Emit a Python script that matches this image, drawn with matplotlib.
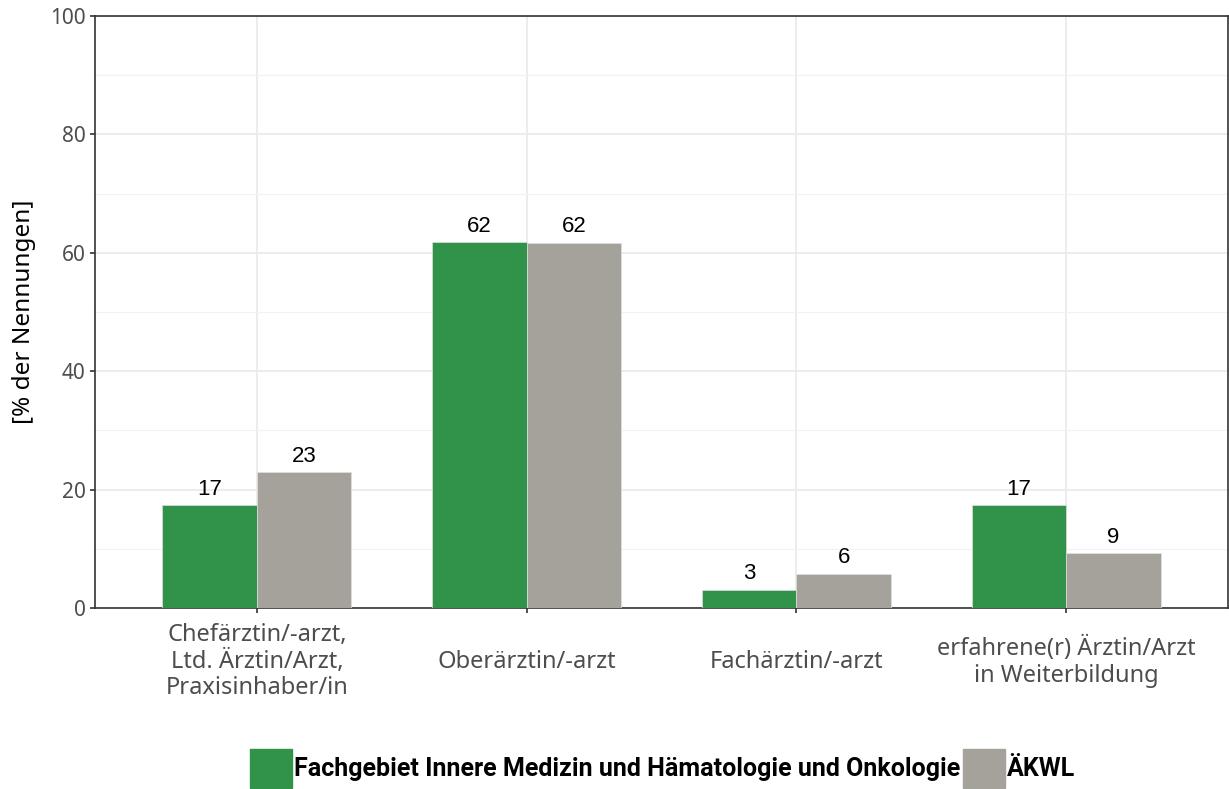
import matplotlib
matplotlib.use("Agg")
import matplotlib.pyplot as plt
from matplotlib.patches import Rectangle
import numpy as np

# Daten
categories = ["Chefärztin/-arzt,\nLtd. Ärztin/Arzt,\nPraxisinhaber/in",
              "Oberärztin/-arzt",
              "Fachärztin/-arzt",
              "erfahrene(r) Ärztin/Arzt\nin Weiterbildung"]
fach_values = [17.4, 61.8, 3.1, 17.4]
aekwl_values = [23.0, 61.7, 5.8, 9.3]
series_names = ["Fachgebiet Innere Medizin und Hämatologie und Onkologie", "ÄKWL"]
colors = ["#31924a", "#a5a29b"]
yticks = [0, 20, 40, 60, 80, 100]

fig = plt.figure(figsize=(12.29, 7.89), dpi=100)
ax = fig.add_axes([95 / 1229, (789 - 608) / 789, (1228 - 95) / 1229, (608 - 16) / 789])

x = np.arange(1, len(categories) + 1)
w = 0.35
b1 = ax.bar(x - w / 2, fach_values, w, color=colors[0], edgecolor="#e0e0e0", linewidth=0.5, zorder=3)
b2 = ax.bar(x + w / 2, aekwl_values, w, color=colors[1], edgecolor="#e0e0e0", linewidth=0.5, zorder=3)

for bars, vals in [(b1, fach_values), (b2, aekwl_values)]:
    for r, v in zip(bars, vals):
        ax.text(r.get_x() + r.get_width() / 2, v + 0.9, f"{round(v)}", ha="center", va="bottom",
                fontsize=16, family="Liberation Sans", color="black", zorder=4)

ax.set_xlim(0.4, 4.6)
ax.set_ylim(0, 100)
ax.set_yticks(yticks)
ax.set_yticks(np.arange(10, 100, 20), minor=True)
ax.set_xticks(x)
ax.set_xticklabels(categories, fontsize=17, family="Noto Sans", color="#4d4d4d",
                   linespacing=1.15, va="center")
ax.tick_params(axis="y", labelsize=15, labelcolor="#4d4d4d", length=3.6, width=1.2, color="#333333", pad=3)
ax.tick_params(axis="x", length=3.6, width=1.2, color="#333333", pad=35)
ax.tick_params(axis="y", which="minor", length=0)
for lab in ax.get_yticklabels():
    lab.set_family("Noto Sans")

ax.grid(True, which="major", color="#ebebeb", linewidth=1.3, zorder=0)
ax.grid(True, which="minor", axis="y", color="#f2f2f2", linewidth=0.8, zorder=0)
ax.set_axisbelow(True)
for s in ax.spines.values():
    s.set_color("#333333")
    s.set_linewidth(1.2)

ax.set_ylabel("[% der Nennungen]", fontsize=17.5, family="Noto Sans", color="black", labelpad=10)

# Legende unten
fig.canvas.draw()
renderer = fig.canvas.get_renderer()
xpos = 250
for name, col in zip(series_names, colors):
    fig.patches.append(Rectangle((xpos / 1229, 1 / 789), 42 / 1229, 39 / 789,
                                 transform=fig.transFigure, color=col, figure=fig))
    t = fig.text((xpos + 44) / 1229, 20 / 789, name, fontsize=18, family="Roboto",
                 weight="bold", va="center", ha="left", color="black")
    bb = t.get_window_extent(renderer)
    xpos = bb.x1 + 3

fig.savefig("out.png", dpi=100)
